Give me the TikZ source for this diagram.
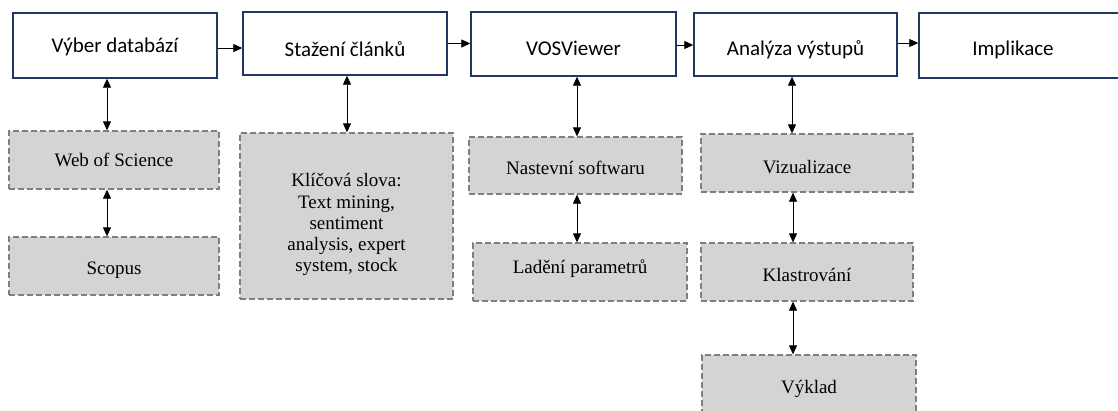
\documentclass[tikz,border=0pt]{standalone}
\usepackage{fontspec}
\setmainfont{Liberation Serif}
\newfontfamily\calfont{Carlito}
\usetikzlibrary{arrows.meta}
\definecolor{navy}{HTML}{1F3864}
\definecolor{boxgray}{HTML}{D4D4D4}
\definecolor{dashgray}{HTML}{7F7F7F}
\begin{document}
\begin{tikzpicture}[x=1pt,y=-1pt,
  topbox/.style={draw=navy, line width=1.4pt, fill=white, inner sep=0pt,
    font=\calfont\fontsize{21}{25}\selectfont},
  toptext/.style={inner sep=0pt, font=\calfont\fontsize{21}{25}\selectfont},
  subbox/.style={draw=dashgray, dash pattern=on 6pt off 3pt, line width=1.3pt,
    fill=boxgray, inner sep=0pt, align=center, font=\fontsize{19}{21.25}\selectfont},
  flow/.style={-{Triangle[length=9pt,width=8pt]}, line width=0.8pt},
  link/.style={{Triangle[length=9pt,width=8pt]}-{Triangle[length=9pt,width=8pt]}, line width=0.8pt}]
\useasboundingbox (0,0) rectangle (1118,410);

% top row
\node[topbox, minimum width=204pt, minimum height=65pt, text height=16.5pt, text depth=3.5pt] (b1) at (115,45.5) {Výber databází};
\node[topbox, minimum width=204pt, minimum height=63pt, text height=26pt, text depth=0pt] (b2) at (345,43.5) {Stažení článků};
\node[topbox, minimum width=205pt, minimum height=64pt, text height=22pt, text depth=0pt] (b3) at (573.5,44) {VOSViewer};
\node[topbox, minimum width=203pt, minimum height=63pt, text height=21pt, text depth=0pt] (b4) at (795.5,44.5) {Analýza výstupů};
\node[topbox, minimum width=206pt, minimum height=65pt] (b5) at (1022,45.5) {};
\node[toptext, anchor=base] (b5t) at (1013,55) {Implikace};

% lower boxes
\node[subbox, minimum width=210pt, minimum height=58pt, text height=12pt, text depth=0pt] (wos) at (114,160) {Web of Science};
\node[subbox, minimum width=210pt, minimum height=58pt, text height=16pt, text depth=0pt] (sco) at (114,266) {Scopus};
\node[subbox, minimum width=213pt, minimum height=166pt] (klic) at (346.5,216)
  {\rule{0pt}{31pt}Klíčová slova:\\Text mining,\\sentiment\\analysis, expert\\system, stock\rule[-4pt]{0pt}{4pt}};
\node[subbox, minimum width=213pt, minimum height=57pt, text height=17pt, text depth=0pt] (nast) at (575.5,165.5) {Nastevní softwaru};
\node[subbox, minimum width=214pt, minimum height=58pt, text height=8pt, text depth=6pt] (lad) at (580,272) {Ladění parametrů};
\node[subbox, minimum width=212pt, minimum height=58pt, text height=20pt, text depth=0pt] (viz) at (807,163) {Vizualizace};
\node[subbox, minimum width=212pt, minimum height=58pt, text height=18pt, text depth=0pt] (kla) at (807,272) {Klastrování};
\node[subbox, minimum width=214pt, minimum height=58pt, text height=18pt, text depth=0pt] (vyk) at (809,384) {Výklad};

% horizontal flow arrows
\draw[flow] ([yshift=-2.5pt]b1.east) -- ([yshift=-2.5pt]b1.east -| b2.west);
\draw[flow] (b2.east) -- (b2.east -| b3.west);
\draw[flow] ([yshift=-1pt]b3.east) -- ([yshift=-1pt]b3.east -| b4.west);
\draw[flow] ([yshift=1.5pt]b4.east) -- ([yshift=1.5pt]b4.east -| b5.west);

% vertical links
\draw[link] ([xshift=-8pt]b1.south) -- ([xshift=-8pt]b1.south |- wos.north);
\draw[link] ([xshift=-7pt]wos.south) -- ([xshift=-7pt]wos.south |- sco.north);
\draw[link] ([xshift=2pt]b2.south) -- ([xshift=2pt]b2.south |- klic.north);
\draw[link] ([xshift=3.5pt]b3.south) -- ([xshift=3.5pt]b3.south |- nast.north);
\draw[link] ([xshift=1.5pt]nast.south) -- ([xshift=1.5pt]nast.south |- lad.north);
\draw[link] ([xshift=-3.5pt]b4.south) -- ([xshift=-3.5pt]b4.south |- viz.north);
\draw[link] ([xshift=-14pt]viz.south) -- ([xshift=-14pt]viz.south |- kla.north);
\draw[link] ([xshift=-14pt]kla.south) -- ([xshift=-14pt]kla.south |- vyk.north);
\end{tikzpicture}
\end{document}
